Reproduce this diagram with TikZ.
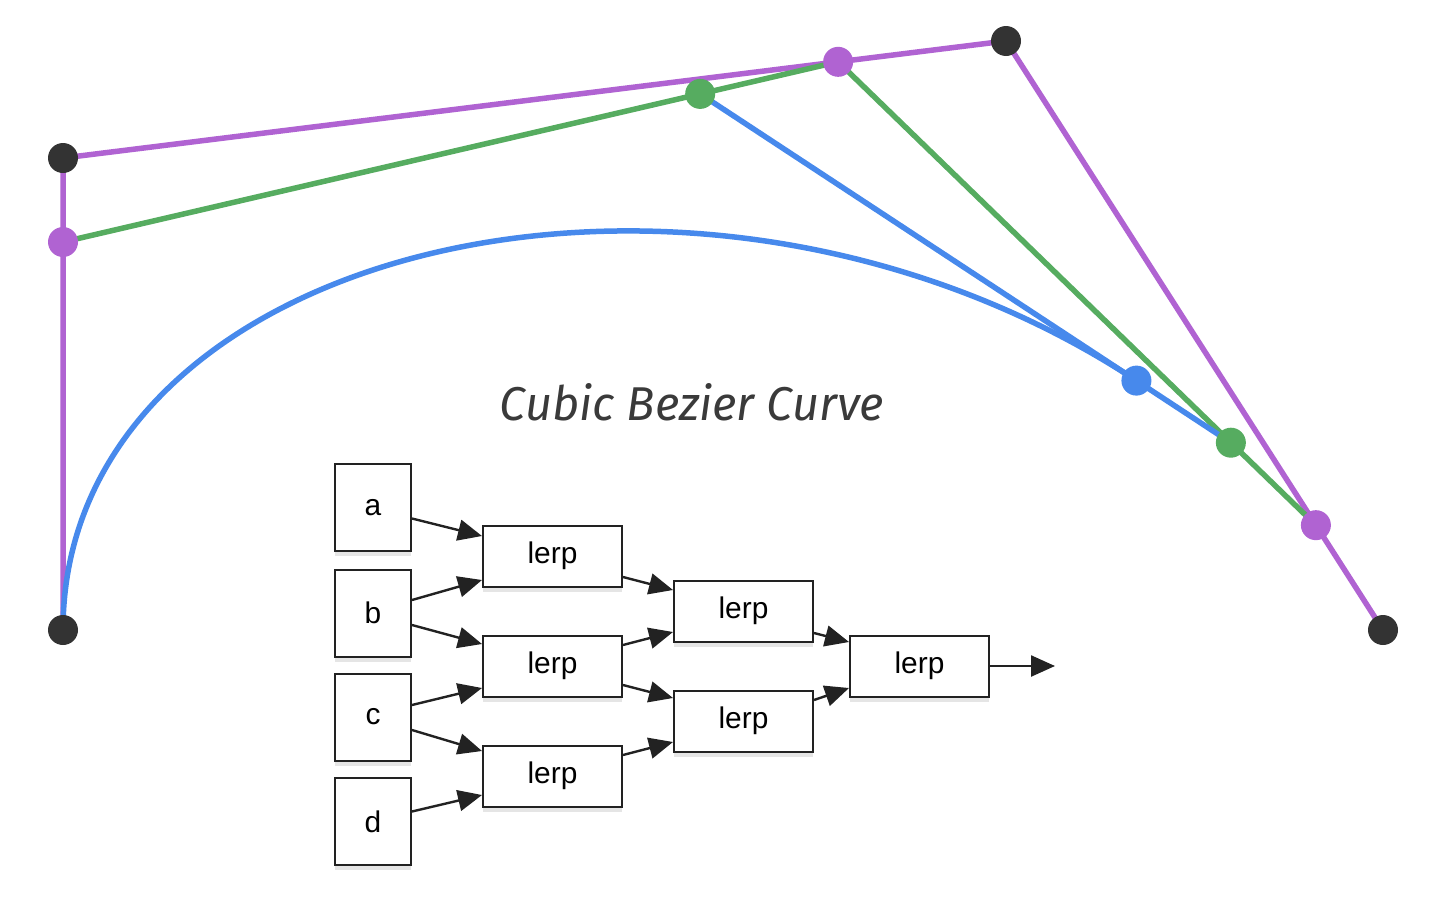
\documentclass[tikz,border=0pt]{standalone}
\usepackage{fontspec}
\setmainfont{Liberation Sans}
\newfontfamily\titlefont{Fira Sans}
\usetikzlibrary{arrows.meta,calc,shadows}
\definecolor{cpurple}{HTML}{B063D2}
\definecolor{cgreen}{HTML}{56AC60}
\definecolor{cblue}{HTML}{4789EC}
\definecolor{cdot}{HTML}{333333}
\definecolor{cbox}{HTML}{222222}
\definecolor{ctitle}{HTML}{3A3A3A}
\begin{document}
\begin{tikzpicture}[x=1bp,y=-1bp,
  ctrl/.style={line width=5.5bp,line cap=round,line join=round},
  dotnode/.style={circle,inner sep=0pt,minimum size=30bp},
  boxbase/.style={draw=cbox,line width=2bp,fill=white,inner sep=0pt,
    font=\fontsize{30}{32}\selectfont,
    drop shadow={shadow xshift=0bp,shadow yshift=-5bp,opacity=0.10,fill=black}},
  inbox/.style={boxbase,minimum width=76bp,minimum height=87bp},
  lerpbox/.style={boxbase,minimum width=139bp,minimum height=61bp},
  flow/.style={-{Triangle[length=24bp,width=21bp]},line width=2.4bp,draw=cbox}
]
\useasboundingbox (0,0) rectangle (1432,916);

% control polygon and de Casteljau points
\coordinate (P0) at (63,630);
\coordinate (P1) at (63,158);
\coordinate (P2) at (1006,41);
\coordinate (P3) at (1383,630);
\coordinate (Q0) at ($(P0)!0.822!(P1)$);
\coordinate (Q1) at ($(P1)!0.822!(P2)$);
\coordinate (Q2) at ($(P2)!0.822!(P3)$);
\coordinate (R0) at ($(Q0)!0.822!(Q1)$);
\coordinate (R1) at ($(Q1)!0.822!(Q2)$);
\coordinate (S) at ($(R0)!0.822!(R1)$);

\draw[ctrl,cpurple] (P0) -- (P1) -- (P2) -- (P3);
\draw[ctrl,cgreen] (Q0) -- (Q1) -- (Q2);
\draw[ctrl,cblue] (R0) -- (R1);
\draw[ctrl,cblue] (P0) .. controls (Q0) and (R0) .. (S);

\foreach \p in {P0,P1,P2,P3} \node[dotnode,fill=cdot] (d\p) at (\p) {};
\foreach \p in {Q0,Q1,Q2} \node[dotnode,fill=cpurple] (d\p) at (\p) {};
\foreach \p in {R0,R1} \node[dotnode,fill=cgreen] (d\p) at (\p) {};
\node[dotnode,fill=cblue] (dS) at (S) {};

% title
\node[anchor=base,text=ctitle,inner sep=0pt] (title) at (692,420)
  {\resizebox{384bp}{37bp}{\titlefont\itshape Cubic Bezier Curve}};

% lerp network
\node[inbox] (a) at (373,507.5) {a};
\node[inbox] (b) at (373,613) {b};
\node[inbox] (c) at (373,717) {c};
\node[inbox] (d) at (373,821.5) {d};
\node[lerpbox] (l1) at (552.5,556) {lerp};
\node[lerpbox] (l2) at (552.5,666) {lerp};
\node[lerpbox] (l3) at (552.5,776) {lerp};
\node[lerpbox] (m1) at (743.5,611) {lerp};
\node[lerpbox] (m2) at (743.5,721) {lerp};
\node[lerpbox] (f) at (919.5,666) {lerp};
\coordinate (out) at (1055,666);

\draw[flow] ($(a.east)+(0,11)$) -- ($(l1.west)+(0,-20)$);
\draw[flow] ($(b.east)+(0,-13)$) -- ($(l1.west)+(0,24)$);
\draw[flow] ($(b.east)+(0,12)$) -- ($(l2.west)+(0,-22)$);
\draw[flow] ($(c.east)+(0,-12)$) -- ($(l2.west)+(0,22)$);
\draw[flow] ($(c.east)+(0,13)$) -- ($(l3.west)+(0,-25)$);
\draw[flow] ($(d.east)+(0,-10)$) -- ($(l3.west)+(0,19)$);
\draw[flow] ($(l1.east)+(0,21)$) -- ($(m1.west)+(0,-21)$);
\draw[flow] ($(l2.east)+(0,-21)$) -- ($(m1.west)+(0,21)$);
\draw[flow] ($(l2.east)+(0,19)$) -- ($(m2.west)+(0,-23)$);
\draw[flow] ($(l3.east)+(0,-21)$) -- ($(m2.west)+(0,21)$);
\draw[flow] ($(m1.east)+(0,22)$) -- ($(f.west)+(0,-24)$);
\draw[flow] ($(m2.east)+(0,-21)$) -- ($(f.west)+(0,22)$);
\draw[flow] (f.east) -- (out);
\end{tikzpicture}
\end{document}
